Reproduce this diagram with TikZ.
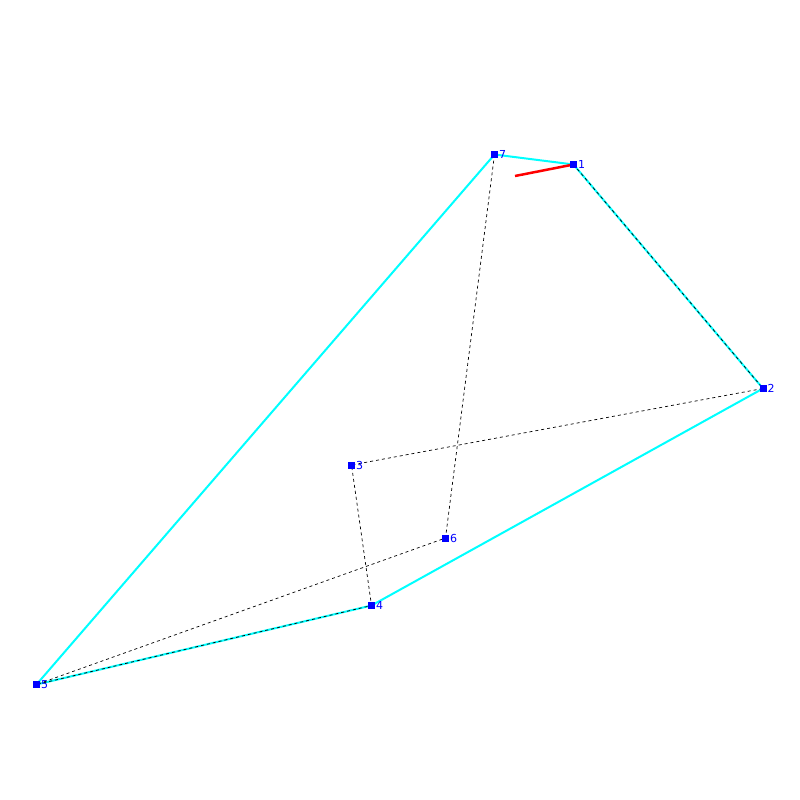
\documentclass[tikz,border=0pt]{standalone}
\usepackage{fontspec}
\setmainfont{DejaVu Sans}
\definecolor{hullcyan}{RGB}{0,255,255}
\definecolor{ptblue}{RGB}{0,0,255}
\definecolor{markred}{RGB}{255,0,0}
\begin{document}
\begin{tikzpicture}[x=1pt,y=-1pt,
  pt/.style={draw=none,fill=ptblue,minimum size=7pt,inner sep=0pt,outer sep=0pt,
    label={[ptblue,font=\fontsize{11}{11}\selectfont,inner sep=0pt,anchor=west,xshift=1pt]east:#1}},
  hull/.style={hullcyan,line width=2pt},
  link/.style={black,dash pattern=on 3pt off 3pt,line width=0.7pt},
  redmark/.style={markred,line width=2.5pt}]
\useasboundingbox (0,0) rectangle (800,800);
\coordinate (p1) at (573.5,164.5);
\coordinate (p2) at (763,388.5);
\coordinate (p3) at (351.5,465);
\coordinate (p4) at (371.5,605.5);
\coordinate (p5) at (36.5,684.5);
\coordinate (p6) at (445.5,538);
\coordinate (p7) at (494.5,154.5);
\coordinate (r0) at (515,176);
\draw[hull] (p7) -- (p1) -- (p2) -- (p4) -- (p5) -- cycle;
\draw[link] (p1) -- (p2) -- (p3) -- (p4) -- (p5) -- (p6) -- (p7);
\draw[redmark] (r0) -- (p1);
\node[pt=1] (n1) at (p1) {};
\node[pt=2] (n2) at (p2) {};
\node[pt=3] (n3) at (p3) {};
\node[pt=4] (n4) at (p4) {};
\node[pt=5] (n5) at (p5) {};
\node[pt=6] (n6) at (p6) {};
\node[pt=7] (n7) at (p7) {};
\end{tikzpicture}
\end{document}
